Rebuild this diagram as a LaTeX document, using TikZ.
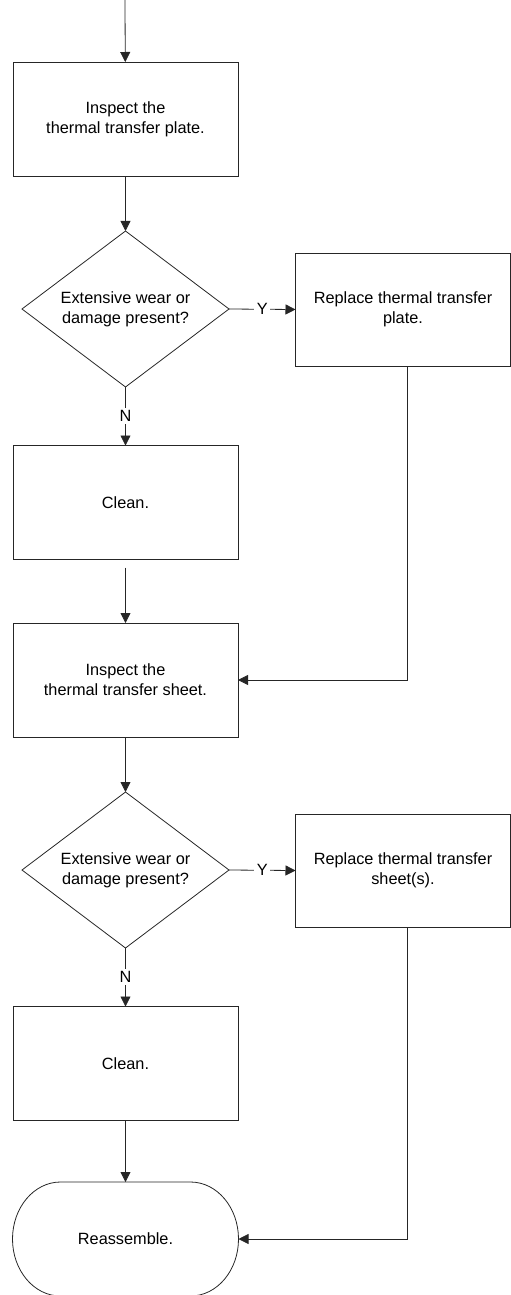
\documentclass[tikz,border=0pt]{standalone}
\usepackage{fontspec}
\setmainfont{Liberation Sans}
\usetikzlibrary{shapes.geometric,arrows.meta}
\begin{document}
\begin{tikzpicture}[x=1pt,y=-1pt,
  every node/.style={font=\fontsize{16.3}{20}\selectfont, align=center, inner sep=0pt, outer sep=0pt},
  procbox/.style={draw=black!85, line width=0.8pt, minimum width=225pt, minimum height=114pt},
  replbox/.style={draw=black!85, line width=0.8pt, minimum width=215pt, minimum height=113pt},
  decision/.style={draw=black!85, line width=0.8pt, shape=diamond, aspect=1.33, minimum width=207pt, minimum height=156pt},
  conn/.style={draw=black!85, line width=0.8pt, -{Triangle[length=10pt,width=10pt]}},
  lbl/.style={fill=white, inner sep=2.5pt}
]
\useasboundingbox (0,0) rectangle (511,1295);

\coordinate (top) at (125,0);
\node[procbox] (b1) at (125.5,119) {Inspect the\\thermal transfer plate.};
\node[decision] (d1) at (125.5,309) {Extensive wear or\\damage present?};
\node[replbox] (r1) at (403,309.5) {Replace thermal transfer\\plate.};
\node[procbox] (c1) at (125.5,502.5) {Clean.};
\node[procbox] (b2) at (125.5,680) {Inspect the\\thermal transfer sheet.};
\node[decision] (d2) at (125.5,870) {Extensive wear or\\damage present?};
\node[replbox] (r2) at (403,870.5) {Replace thermal transfer\\sheet(s).};
\node[procbox] (c2) at (125.5,1063.5) {Clean.};
\node[minimum width=226pt, minimum height=114pt] (t) at (125.5,1239) {Reassemble.};
\draw[draw=black!85, line width=0.8pt]
  ([xshift=-65pt]t.north) -- ([xshift=65pt]t.north)
  arc[start angle=90, end angle=-90, x radius=48pt, y radius=57pt]
  -- ([xshift=-65pt]t.south)
  arc[start angle=270, end angle=90, x radius=48pt, y radius=57pt] -- cycle;

\draw[conn] (top) -- (b1);
\draw[conn] (b1) -- (d1);
\draw[conn] (d1.east) -- node[lbl] {Y} (r1.west);
\draw[conn] (d1.south) -- node[lbl] {N} (c1.north);
\draw[conn, shorten <=8pt] (c1) -- (b2);
\draw[conn] ([xshift=4pt]r1.south) |- (b2.east);
\draw[conn] (b2) -- (d2);
\draw[conn] (d2.east) -- node[lbl] {Y} (r2.west);
\draw[conn] (d2.south) -- node[lbl] {N} (c2.north);
\draw[conn] (c2) -- (t.north);
\draw[conn] ([xshift=4pt]r2.south) |- (t.east);
\end{tikzpicture}
\end{document}
